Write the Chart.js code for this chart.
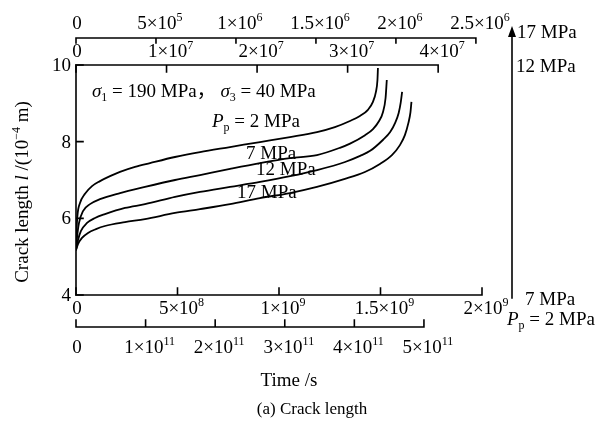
<!DOCTYPE html>
<html>
<head>
<meta charset="utf-8">
<script src="https://cdn.jsdelivr.net/npm/chart.js@4/dist/chart.umd.min.js"></script>
<style>
  body { margin: 0; background: #fff; }
  #wrap { width: 613px; height: 421px; position: relative; }
</style>
</head>
<body>
<div id="wrap"><canvas id="crackChart"></canvas></div>
<script>
// crack length l (10^-4 m) against time (s), one run per pore pressure Pp
var timeP2 = [0, 7.2e8, 2.16e9, 5.75e9, 1.29e10, 2.30e10, 3.45e10, 4.89e10, 6.32e10, 8.48e10, 1.063e11, 1.422e11,
    1.782e11, 2.213e11, 2.644e11, 3.075e11, 3.463e11, 3.72e11, 3.937e11, 4.08e11, 4.195e11, 4.267e11, 4.31e11, 4.332e11, 4.339e11];
var lenP2 = [5.17, 5.64, 6.09, 6.40, 6.64, 6.84, 6.97, 7.10, 7.21, 7.34, 7.44, 7.60,
    7.73, 7.86, 7.99, 8.12, 8.25, 8.38, 8.54, 8.67, 8.83, 9.04, 9.30, 9.61, 9.92];

var timeP7 = [0, 4.9e6, 1.48e7, 3.45e7, 6.9e7, 1.18e8, 2.17e8, 3.40e8, 4.88e8, 6.11e8, 7.59e8, 9.06e8,
    1.054e9, 1.187e9, 1.300e9, 1.350e9, 1.424e9, 1.463e9, 1.493e9, 1.512e9, 1.525e9, 1.531e9];
var lenP7 = [5.17, 5.49, 5.88, 6.19, 6.37, 6.50, 6.66, 6.82, 7.00, 7.13, 7.29, 7.44,
    7.57, 7.65, 7.84, 7.95, 8.17, 8.33, 8.54, 8.77, 9.14, 9.61];

var timeP12 = [0, 2.2e5, 5.5e5, 1.22e6, 2.10e6, 3.20e6, 5.41e6, 7.62e6, 1.094e7, 1.370e7, 1.702e7, 2.033e7,
    2.365e7, 2.663e7, 2.972e7, 3.138e7, 3.249e7, 3.392e7, 3.470e7, 3.525e7, 3.564e7, 3.586e7, 3.602e7];
var lenP12 = [5.17, 5.43, 5.67, 5.88, 6.01, 6.11, 6.27, 6.37, 6.56, 6.69, 6.82, 6.95,
    7.10, 7.26, 7.47, 7.63, 7.76, 8.05, 8.25, 8.49, 8.75, 9.01, 9.30];

var timeP17 = [0, 1.25e4, 3.75e4, 7.5e4, 1.25e5, 1.81e5, 3.06e5, 4.31e5, 6.19e5, 7.75e5, 9.63e5, 1.150e6,
    1.3375e6, 1.506e6, 1.681e6, 1.806e6, 1.900e6, 1.975e6, 2.025e6, 2.056e6, 2.078e6, 2.091e6, 2.097e6];
var lenP17 = [5.17, 5.33, 5.49, 5.62, 5.72, 5.80, 5.90, 5.98, 6.14, 6.24, 6.37, 6.53,
    6.66, 6.82, 7.03, 7.21, 7.42, 7.65, 7.91, 8.17, 8.49, 8.77, 9.04];

// tick values of the four time axes and the length axis
var ticksP17 = [0, 5e5, 1e6, 1.5e6, 2e6, 2.5e6];
var ticksP12 = [0, 1e7, 2e7, 3e7, 4e7];
var ticksP7 = [0, 5e8, 1e9, 1.5e9, 2e9];
var ticksP2 = [0, 1e11, 2e11, 3e11, 4e11, 5e11];
var ticksLen = [4, 6, 8, 10];

var FONT = '"Liberation Serif", "Times New Roman", "Noto Sans CJK SC", serif';
var FS = 19;

function pairs(xs, ys) {
    return xs.map(function (x, i) { return { x: x, y: ys[i] }; });
}

// draw a run of text pieces: style '' normal, 'i' italic, 'sup', 'sub'
function drawRich(ctx, parts, x, y, align, size) {
    size = size || FS;
    function fontOf(p) {
        var s = (p[1] === 'sup' || p[1] === 'sub') ? Math.round(size * 0.62) : size;
        return (p[1] === 'i' ? 'italic ' : '') + s + 'px ' + FONT;
    }
    var total = 0;
    parts.forEach(function (p) { ctx.font = fontOf(p); total += ctx.measureText(p[0]).width; });
    var cx = align === 'center' ? x - total / 2 : (align === 'right' ? x - total : x);
    ctx.textAlign = 'left';
    ctx.textBaseline = 'alphabetic';
    parts.forEach(function (p) {
        ctx.font = fontOf(p);
        var dy = p[1] === 'sup' ? -size * 0.4 : (p[1] === 'sub' ? size * 0.2 : 0);
        ctx.fillText(p[0], cx, y + dy);
        cx += ctx.measureText(p[0]).width;
    });
}

function sciLabel(v) {
    if (v === 0) return [['0', '']];
    var e = Math.floor(Math.log10(v) + 1e-9);
    var m = +(v / Math.pow(10, e)).toFixed(2);
    return [[m + '×10', ''], [String(e), 'sup']];
}

// horizontal time axis: line up to the last tick, ticks toward the plot
function drawTimeAxis(ctx, scale, ticks, yLine, dir, labelBase, tickLen) {
    var x0 = scale.getPixelForValue(ticks[0]);
    var x1 = scale.getPixelForValue(ticks[ticks.length - 1]);
    ctx.beginPath();
    ctx.moveTo(x0, yLine);
    ctx.lineTo(x1, yLine);
    ticks.forEach(function (t) {
        var px = scale.getPixelForValue(t);
        ctx.moveTo(px, yLine);
        ctx.lineTo(px, yLine + dir * tickLen);
    });
    ctx.stroke();
    ticks.forEach(function (t) {
        var px = scale.getPixelForValue(t);
        var parts = sciLabel(t);
        if (t === 0) drawRich(ctx, parts, px + 1, labelBase, 'center');
        else drawRich(ctx, parts, px + 4, labelBase, 'center');
    });
}

var axesPlugin = {
    id: 'crackAxes',
    afterDraw: function (chart) {
        var ctx = chart.ctx;
        var a = chart.chartArea;
        var s = chart.scales;
        ctx.save();
        ctx.strokeStyle = '#000';
        ctx.fillStyle = '#000';
        ctx.lineWidth = 1.6;
        ctx.lineCap = 'square';

        // length axis
        ctx.beginPath();
        ctx.moveTo(a.left, a.top);
        ctx.lineTo(a.left, a.bottom);
        ticksLen.forEach(function (v) {
            var py = s.y.getPixelForValue(v);
            ctx.moveTo(a.left, py);
            ctx.lineTo(a.left + 7, py);
        });
        ctx.stroke();
        ctx.font = FS + 'px ' + FONT;
        ctx.textAlign = 'right';
        ctx.textBaseline = 'middle';
        ticksLen.forEach(function (v) {
            ctx.fillText(String(v), a.left - 5, s.y.getPixelForValue(v) + 1);
        });

        // time axes
        drawTimeAxis(ctx, s.xP17, ticksP17, 38, 1, 29, 5);
        drawTimeAxis(ctx, s.xP12, ticksP12, a.top, 1, 57, 7);
        drawTimeAxis(ctx, s.xP7, ticksP7, a.bottom, -1, 314, 7);
        drawTimeAxis(ctx, s.xP2, ticksP2, 327, -1, 353, 7);

        // axis titles
        drawRich(ctx, [['Time /s', '']], 289, 386, 'center');
        drawRich(ctx, [['(a) Crack length', '']], 312, 414, 'center', 17);
        ctx.save();
        ctx.translate(28, 192);
        ctx.rotate(-Math.PI / 2);
        drawRich(ctx, [['Crack length ', ''], ['l', 'i'], [' /(10', ''], ['−4', 'sup'], [' m)', '']], 0, 0, 'center');
        ctx.restore();

        // stress state and curve labels
        drawRich(ctx, [['σ', 'i'], ['1', 'sub'], [' = 190 MPa， ', ''], ['σ', 'i'], ['3', 'sub'], [' = 40 MPa', '']], 92, 97, 'left');
        drawRich(ctx, [['P', 'i'], ['p', 'sub'], [' = 2 MPa', '']], 212, 127, 'left');
        drawRich(ctx, [['7 MPa', '']], 246, 159, 'left');
        drawRich(ctx, [['12 MPa', '']], 256, 175, 'left');
        drawRich(ctx, [['17 MPa', '']], 237, 198, 'left');

        // pore pressure arrow on the right
        ctx.beginPath();
        ctx.moveTo(512, 298);
        ctx.lineTo(512, 34);
        ctx.stroke();
        ctx.beginPath();
        ctx.moveTo(512, 26);
        ctx.lineTo(508, 37);
        ctx.lineTo(516, 37);
        ctx.closePath();
        ctx.fill();
        drawRich(ctx, [['17 MPa', '']], 517, 38, 'left');
        drawRich(ctx, [['12 MPa', '']], 516, 72, 'left');
        drawRich(ctx, [['7 MPa', '']], 525, 305, 'left');
        drawRich(ctx, [['P', 'i'], ['p', 'sub'], [' = 2 MPa', '']], 507, 325, 'left');
        ctx.restore();
    }
};

function curve(data, axisId) {
    return {
        data: data,
        xAxisID: axisId,
        yAxisID: 'y',
        borderColor: '#000',
        borderWidth: 1.8,
        pointRadius: 0,
        fill: false,
        cubicInterpolationMode: 'monotone'
    };
}

new Chart(document.getElementById('crackChart'), {
    type: 'line',
    data: {
        datasets: [
            curve(pairs(timeP2, lenP2), 'xP2'),
            curve(pairs(timeP7, lenP7), 'xP7'),
            curve(pairs(timeP12, lenP12), 'xP12'),
            curve(pairs(timeP17, lenP17), 'xP17')
        ]
    },
    options: {
        responsive: true,
        maintainAspectRatio: false,
        animation: false,
        events: [],
        layout: { padding: { left: 76, right: 131, top: 65, bottom: 126 } },
        plugins: { legend: { display: false }, tooltip: { enabled: false } },
        scales: {
            y: { type: 'linear', display: false, min: 4, max: 10 },
            // each time axis ends short of the plot's right edge by a different amount
            xP7: { type: 'linear', display: false, position: 'bottom', min: 0, max: 2e9 },
            xP2: { type: 'linear', display: false, position: 'bottom', min: 0, max: 5e11 / 0.857 },
            xP12: { type: 'linear', display: false, position: 'top', min: 0, max: 4e7 / 0.892 },
            xP17: { type: 'linear', display: false, position: 'top', min: 0, max: 2.5e6 / 0.985 }
        }
    },
    plugins: [axesPlugin]
});
</script>
</body>
</html>
